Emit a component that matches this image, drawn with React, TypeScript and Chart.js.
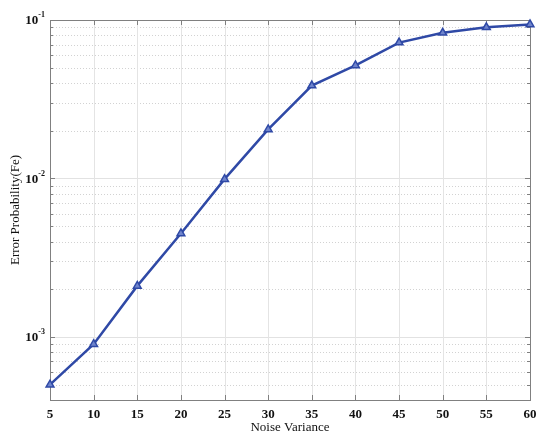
import React, { useEffect, useRef } from "react";
import { Chart, registerables } from "chart.js";

Chart.register(...registerables);

const noiseVariance = [5, 10, 15, 20, 25, 30, 35, 40, 45, 50, 55, 60];
const errorProbability = [5.0e-4, 9.0e-4, 2.1e-3, 4.5e-3, 9.9e-3, 2.04e-2, 3.86e-2, 5.17e-2, 7.2e-2, 8.3e-2, 9.0e-2, 9.37e-2];
const xTickValues = [5, 10, 15, 20, 25, 30, 35, 40, 45, 50, 55, 60];
const yDecadeExponents = [-3, -2, -1];
const yMin = 4e-4;
const yMax = 1e-1;

const FONT = "'Liberation Serif', 'Times New Roman', serif";
const LINE_COLOR = "#2f49a6";

const matlabAxesPlugin = {
  id: "matlabAxes",
  beforeDatasetsDraw(chart: any) {
    const { ctx, chartArea, scales } = chart;
    const { left, right, top, bottom } = chartArea;
    const xs = scales.x;
    const ys = scales.y;
    ctx.save();
    // horizontal grid (log)
    for (let k = -4; k <= -1; k++) {
      for (let m = 1; m <= 9; m++) {
        const v = m * Math.pow(10, k);
        if (v < yMin * 0.999 || v > yMax * 1.001) continue;
        const y = Math.round(ys.getPixelForValue(v)) + 0.5;
        ctx.beginPath();
        if (m === 1) {
          ctx.setLineDash([]);
          ctx.strokeStyle = "#e2e2e2";
        } else {
          ctx.setLineDash([1, 2]);
          ctx.strokeStyle = "#d2d2d2";
        }
        ctx.lineWidth = 1;
        ctx.moveTo(left, y);
        ctx.lineTo(right, y);
        ctx.stroke();
        const len = m === 1 ? 5 : 3;
        ctx.setLineDash([]);
        ctx.strokeStyle = "#808080";
        ctx.beginPath();
        ctx.moveTo(left, y);
        ctx.lineTo(left + len, y);
        ctx.moveTo(right, y);
        ctx.lineTo(right - len, y);
        ctx.stroke();
      }
    }
    // vertical grid
    ctx.setLineDash([]);
    for (const t of xTickValues) {
      const x = Math.round(xs.getPixelForValue(t)) + 0.5;
      ctx.strokeStyle = "#e4e4e4";
      ctx.beginPath();
      ctx.moveTo(x, top);
      ctx.lineTo(x, bottom);
      ctx.stroke();
      ctx.strokeStyle = "#808080";
      ctx.beginPath();
      ctx.moveTo(x, bottom);
      ctx.lineTo(x, bottom - 5);
      ctx.moveTo(x, top);
      ctx.lineTo(x, top + 5);
      ctx.stroke();
    }
    // box
    ctx.strokeStyle = "#808080";
    ctx.lineWidth = 1;
    ctx.strokeRect(Math.round(left) + 0.5, Math.round(top) + 0.5, Math.round(right - left), Math.round(bottom - top));
    // y decade labels with superscripts
    ctx.fillStyle = "#111111";
    ctx.textBaseline = "middle";
    for (const e of yDecadeExponents) {
      const y = ys.getPixelForValue(Math.pow(10, e));
      const sup = String(e);
      ctx.font = `bold 8px ${FONT}`;
      const supW = ctx.measureText(sup).width;
      const xEnd = left - 5;
      ctx.textAlign = "right";
      ctx.fillText(sup, xEnd, y - 5);
      ctx.font = `bold 13px ${FONT}`;
      ctx.fillText("10", xEnd - supW, y + 1);
    }
    ctx.restore();
  },
};

export default function App() {
  const canvasRef = useRef<HTMLCanvasElement | null>(null);

  useEffect(() => {
    document.body.style.margin = "0";
    const canvas = canvasRef.current;
    if (!canvas) return;
    const chart = new Chart(canvas, {
      type: "line",
      data: {
        datasets: [
          {
            data: noiseVariance.map((x, i) => ({ x, y: errorProbability[i] })),
            borderColor: LINE_COLOR,
            backgroundColor: "#5a72c4",
            borderWidth: 2.5,
            pointStyle: "triangle",
            pointRadius: 4.5,
            pointBorderWidth: 1.5,
            pointBorderColor: LINE_COLOR,
            pointBackgroundColor: "#6f84cc",
            tension: 0,
            clip: false,
          },
        ],
      },
      options: {
        responsive: false,
        animation: false,
        layout: { padding: { top: 20, right: 20, left: 0, bottom: 0 } },
        plugins: { legend: { display: false }, tooltip: { enabled: false } },
        scales: {
          x: {
            type: "linear",
            min: 5,
            max: 60,
            grid: { display: false, drawTicks: false },
            border: { display: false },
            ticks: {
              stepSize: 5,
              padding: 7,
              color: "#111111",
              font: { family: FONT, size: 13, weight: "bold" },
              maxRotation: 0,
            },
            title: {
              display: true,
              text: "Noise Variance",
              color: "#111111",
              font: { family: FONT, size: 13 },
              padding: { top: 0, bottom: 3 },
            },
            afterFit: (scale: any) => {
              scale.height = 38;
            },
          },
          y: {
            type: "logarithmic",
            min: yMin,
            max: yMax,
            grid: { display: false, drawTicks: false },
            border: { display: false },
            ticks: { display: false },
            title: {
              display: true,
              text: "Error Probability(Fe)",
              color: "#111111",
              font: { family: FONT, size: 13 },
              padding: { top: 8, bottom: 0 },
            },
            afterFit: (scale: any) => {
              scale.width = 50;
            },
          },
        },
      },
      plugins: [matlabAxesPlugin],
    });
    return () => chart.destroy();
  }, []);

  return (
    <div style={{ width: 550, height: 438 }}>
      <canvas ref={canvasRef} width={550} height={438} />
    </div>
  );
}
